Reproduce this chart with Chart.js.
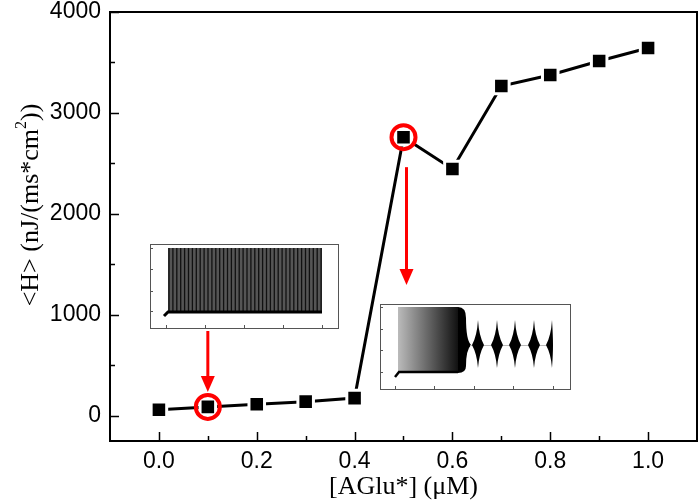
<!DOCTYPE html>
<html>
<head>
<meta charset="utf-8">
<script src="https://cdn.jsdelivr.net/npm/chart.js@4.4.1/dist/chart.umd.min.js"></script>
<style>
    body { margin: 0; background: #fff; }
    #wrap { width: 700px; height: 500px; }
</style>
</head>
<body>
<div id="wrap"><canvas id="chart"></canvas></div>
<script>
const concentrations = [0.0, 0.1, 0.2, 0.3, 0.4, 0.5, 0.6, 0.7, 0.8, 0.9, 1.0];
const heatValues = [60, 88, 115, 140, 175, 2760, 2445, 3267, 3376, 3515, 3644];
const xTickValues = [0, 0.1, 0.2, 0.3, 0.4, 0.5, 0.6, 0.7, 0.8, 0.9, 1.0];
const xTickLabels = ['0.0', '', '0.2', '', '0.4', '', '0.6', '', '0.8', '', '1.0'];
const yTickValues = [0, 500, 1000, 1500, 2000, 2500, 3000, 3500, 4000];
const yTickLabels = ['0', '', '1000', '', '2000', '', '3000', '', '4000'];
const highlighted = [1, 5]; // circled points

const serif = '"Liberation Serif", "Times New Roman", serif';

// frame + inward ticks + y title with superscript
const framePlugin = {
    id: 'frame',
    afterDraw(chart) {
        const ctx = chart.ctx;
        const a = chart.chartArea;
        const xs = chart.scales.x, ys = chart.scales.y;
        ctx.save();
        ctx.strokeStyle = '#000';
        ctx.lineWidth = 2;
        ctx.strokeRect(a.left, a.top, a.right - a.left, a.bottom - a.top);
        ctx.lineWidth = 1.5;
        ctx.beginPath();
        xTickValues.forEach(function(v, i) {
            const x = Math.round(xs.getPixelForValue(v)) + 0.5;
            const len = xTickLabels[i] ? 9 : 5;
            ctx.moveTo(x, a.bottom);
            ctx.lineTo(x, a.bottom - len);
        });
        yTickValues.forEach(function(v, i) {
            const y = Math.round(ys.getPixelForValue(v)) + 0.5;
            const len = yTickLabels[i] ? 9 : 5;
            ctx.moveTo(a.left, y);
            ctx.lineTo(a.left + len, y);
        });
        ctx.stroke();

        // y axis title
        const main = '<H> (nJ/(ms*cm';
        ctx.translate(31, 205);
        ctx.rotate(-Math.PI / 2);
        ctx.fillStyle = '#000';
        ctx.textBaseline = 'middle';
        ctx.font = '26px ' + serif;
        const w1 = ctx.measureText(main).width;
        const w3 = ctx.measureText('))').width;
        ctx.font = '16px ' + serif;
        const w2 = ctx.measureText('2').width;
        let x0 = -(w1 + w2 + w3) / 2;
        ctx.font = '26px ' + serif;
        ctx.fillText(main, x0, 0);
        ctx.font = '16px ' + serif;
        ctx.fillText('2', x0 + w1, -9);
        ctx.font = '26px ' + serif;
        ctx.fillText('))', x0 + w1 + w2, 0);
        ctx.restore();
    }
};

function drawArrow(ctx, x, y1, y2) {
    ctx.strokeStyle = '#f00';
    ctx.fillStyle = '#f00';
    ctx.lineWidth = 3;
    ctx.beginPath();
    ctx.moveTo(x, y1);
    ctx.lineTo(x, y2 - 14);
    ctx.stroke();
    ctx.beginPath();
    ctx.moveTo(x - 7, y2 - 16);
    ctx.lineTo(x + 7, y2 - 16);
    ctx.lineTo(x, y2);
    ctx.closePath();
    ctx.fill();
}

function insetFrame(ctx, x, y, w, h, yt, xt) {
    ctx.fillStyle = '#fff';
    ctx.fillRect(x, y, w, h);
    ctx.strokeStyle = '#555';
    ctx.lineWidth = 1;
    ctx.strokeRect(x + 0.5, y + 0.5, w, h);
    ctx.beginPath();
    yt.forEach(function(t) { ctx.moveTo(x, t + 0.5); ctx.lineTo(x + 3, t + 0.5); });
    xt.forEach(function(t) { ctx.moveTo(t + 0.5, y + h); ctx.lineTo(t + 0.5, y + h - 3); });
    ctx.stroke();
}

// the two spike-train insets, arrows and circles
const insetPlugin = {
    id: 'insets',
    afterDraw(chart) {
        const ctx = chart.ctx;
        const pts = chart.getDatasetMeta(0).data;
        ctx.save();

        // inset 1 (regular spiking)
        insetFrame(ctx, 150, 244, 188, 84, [248, 269, 291, 311], [166, 205, 244, 283, 322]);
        ctx.fillStyle = '#555';
        ctx.fillRect(168, 248, 154, 64);
        ctx.strokeStyle = '#111';
        ctx.lineWidth = 1.3;
        ctx.beginPath();
        for (let i = 0; i < 40; i++) {
            const sx = 169 + i * 3.9;
            ctx.moveTo(sx, 248);
            ctx.lineTo(sx, 312);
        }
        ctx.stroke();
        ctx.strokeStyle = '#000';
        ctx.lineWidth = 3;
        ctx.beginPath();
        ctx.moveTo(164, 316);
        ctx.lineTo(168, 312);
        ctx.lineTo(322, 312);
        ctx.stroke();

        // inset 2 (spiking then bursting)
        insetFrame(ctx, 380, 304, 190, 85, [307, 329, 350, 372], [395, 434, 474, 513, 553]);
        const g = ctx.createLinearGradient(398, 0, 458, 0);
        g.addColorStop(0, '#bbb');
        g.addColorStop(1, '#111');
        ctx.fillStyle = g;
        ctx.fillRect(398, 307, 60, 66);
        ctx.fillStyle = '#000';
        ctx.beginPath();
        ctx.moveTo(458, 307);
        ctx.quadraticCurveTo(466, 307, 466, 318);
        ctx.quadraticCurveTo(466, 340, 471, 345);
        ctx.quadraticCurveTo(466, 350, 466, 366);
        ctx.quadraticCurveTo(466, 373, 458, 373);
        ctx.closePath();
        ctx.fill();
        ctx.strokeStyle = '#000';
        ctx.lineWidth = 2.5;
        ctx.beginPath();
        ctx.moveTo(395, 377);
        ctx.lineTo(399, 372);
        ctx.lineTo(458, 372);
        ctx.stroke();
        ctx.strokeStyle = '#bbb';
        ctx.lineWidth = 1;
        ctx.beginPath();
        ctx.moveTo(470, 345.5);
        ctx.lineTo(553, 345.5);
        ctx.stroke();
        ctx.fillStyle = '#000';
        [478, 497, 515, 534, 552].forEach(function(cx, i) {
            const half = i === 4;
            ctx.beginPath();
            ctx.moveTo(cx, 320);
            ctx.quadraticCurveTo(cx + 1, 336, cx + (half ? 1 : 6), 345);
            ctx.quadraticCurveTo(cx + 1, 354, cx, 368);
            ctx.quadraticCurveTo(cx - 1, 354, cx - 6, 345);
            ctx.quadraticCurveTo(cx - 1, 336, cx, 320);
            ctx.fill();
        });

        // circles around highlighted points
        ctx.strokeStyle = '#f00';
        ctx.lineWidth = 4;
        highlighted.forEach(function(i) {
            ctx.beginPath();
            ctx.arc(pts[i].x, pts[i].y, 12, 0, Math.PI * 2);
            ctx.stroke();
        });

        drawArrow(ctx, pts[1].x, 331, pts[1].y - 15);
        drawArrow(ctx, pts[5].x + 3, pts[5].y + 30, 285);
        ctx.restore();
    }
};

const tickFont = { family: '"Liberation Sans", Arial, sans-serif', size: 23 };

new Chart(document.getElementById('chart'), {
    type: 'line',
    data: {
        datasets: [{
            data: concentrations.map(function(c, i) { return { x: c, y: heatValues[i] }; }),
            borderColor: '#000',
            borderWidth: 3,
            pointStyle: 'rect',
            pointRadius: 11,
            pointBackgroundColor: '#000',
            pointBorderColor: '#fff',
            pointBorderWidth: 3,
            tension: 0
        }]
    },
    plugins: [framePlugin, insetPlugin],
    options: {
        responsive: true,
        maintainAspectRatio: false,
        animation: false,
        layout: { autoPadding: false, padding: { top: 12, right: 3, left: 0, bottom: 0 } },
        plugins: { legend: { display: false }, tooltip: { enabled: false } },
        scales: {
            x: {
                type: 'linear',
                min: -0.1,
                max: 1.1,
                afterBuildTicks: function(s) { s.ticks = xTickValues.map(function(v) { return { value: v }; }); },
                afterFit: function(s) { s.height = 59; s.paddingLeft = 0; s.paddingRight = 0; },
                grid: { display: false, drawTicks: false, tickLength: 0 },
                border: { display: false },
                ticks: {
                    color: '#000',
                    font: tickFont,
                    padding: 7,
                    autoSkip: false,
                    maxRotation: 0,
                    callback: function(v, i) { return xTickLabels[i]; }
                },
                title: {
                    display: true,
                    text: '[AGlu*] (\u03bcM)',
                    color: '#000',
                    font: { family: serif, size: 26 },
                    padding: { top: 0, bottom: -3 }
                }
            },
            y: {
                min: -250,
                max: 4000,
                afterBuildTicks: function(s) { s.ticks = yTickValues.map(function(v) { return { value: v }; }); },
                afterFit: function(s) { s.width = 110; s.paddingTop = 0; s.paddingBottom = 0; },
                grid: { display: false, drawTicks: false, tickLength: 0 },
                border: { display: false },
                ticks: {
                    color: '#000',
                    font: tickFont,
                    padding: 9,
                    autoSkip: false,
                    callback: function(v, i) { return yTickLabels[i]; }
                }
            }
        }
    }
});
</script>
</body>
</html>
